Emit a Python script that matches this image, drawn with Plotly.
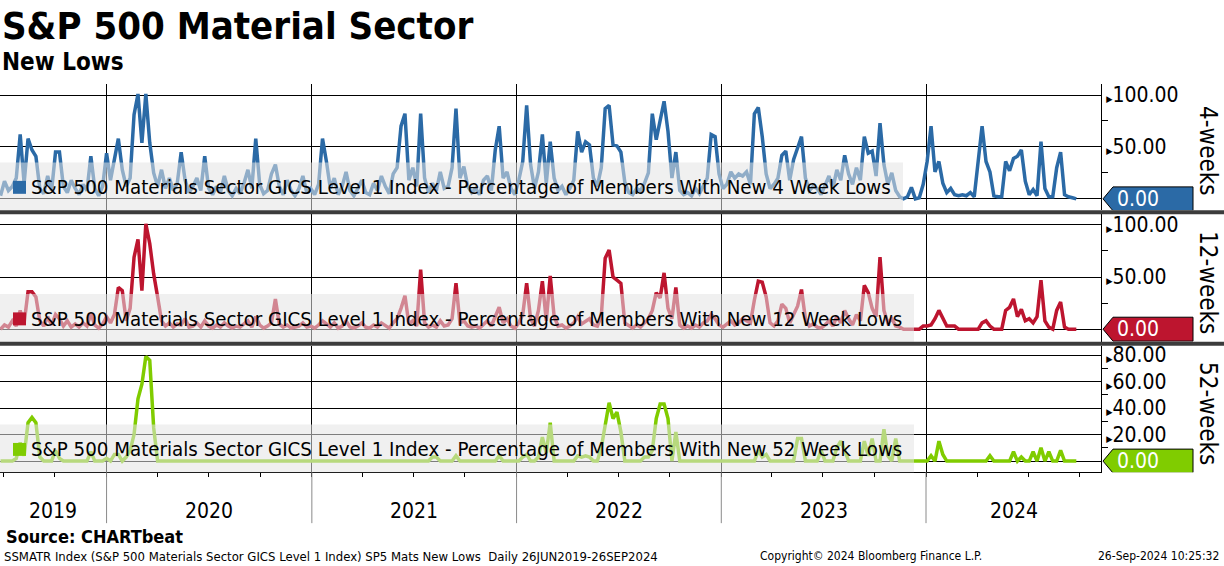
import plotly.graph_objects as go
import pandas as pd

W, H = 1224, 566

# ---------------- data (weekly readings, 26 Jun 2019 - 25 Sep 2024) ----------------
start_date = "2019-06-26"
n_weeks = 275

lows_4w = [
    3, 17, 8, 12, 20, 62, 15, 58, 47, 41,
    10, 5, 22, 8, 45, 45, 12, 6, 18, 10,
    4, 14, 8, 41, 10, 3, 12, 44, 18, 39,
    58, 28, 12, 20, 81, 101, 54, 101, 54, 25,
    12, 28, 10, 20, 8, 15, 45, 18, 6, 12,
    20, 8, 41, 10, 4, 12, 6, 22, 8, 3,
    10, 5, 15, 28, 10, 58, 14, 5, 8, 24,
    33, 12, 4, 18, 8, 3, 10, 22, 6, 10,
    4, 14, 58, 36, 10, 20, 4, 12, 26, 8,
    3, 10, 18, 6, 4, 15, 8, 22, 12, 5,
    24, 30, 70, 82, 18, 30, 12, 82, 20, 6,
    15, 8, 26, 10, 12, 30, 87, 20, 31, 12,
    6, 10, 4, 18, 22, 8, 47, 70, 20, 26,
    10, 4, 18, 36, 90, 33, 10, 26, 62, 15,
    55, 20, 8, 12, 4, 10, 18, 65, 45, 55,
    52, 20, 12, 30, 87, 90, 52, 51, 45, 16,
    6, 4, 10, 8, 15, 25, 82, 57, 76, 94,
    65, 20, 45, 8, 4, 6, 3, 10, 5, 12,
    20, 62, 60, 24, 10, 14, 26, 20, 24, 22,
    26, 14, 82, 88, 60, 24, 10, 14, 20, 42,
    46, 18, 38, 49, 60, 20, 8, 12, 10, 4,
    14, 22, 10, 28, 18, 42, 24, 14, 30, 18,
    60, 44, 46, 22, 73, 33, 14, 25, 8, 2,
    0, 2, 11, 0, 1, 14, 36, 70, 26, 36,
    15, 6, 10, 4, 3, 4, 3, 6, 2, 36,
    70, 36, 26, 3, 2, 2, 36, 27, 39, 41,
    47, 17, 4, 9, 3, 55, 10, 2, 2, 30,
    45, 4, 2, 1, 0,
]

lows_12w = [
    0, 4, 2, 8, 3, 18, 6, 36, 36, 31,
    8, 3, 12, 4, 14, 10, 3, 8, 2, 5,
    2, 6, 3, 15, 4, 1, 5, 12, 6, 14,
    40, 37, 8, 20, 69, 86, 37, 101, 82, 53,
    31, 8, 3, 6, 2, 5, 4, 10, 2, 3,
    6, 2, 8, 3, 1, 4, 2, 6, 3, 1,
    3, 2, 5, 8, 2, 12, 4, 1, 3, 6,
    29, 5, 2, 4, 1, 2, 3, 6, 2, 3,
    1, 4, 8, 5, 2, 6, 1, 3, 8, 2,
    1, 3, 6, 2, 1, 4, 2, 6, 3, 1,
    6, 10, 20, 32, 5, 8, 3, 57, 6, 2,
    4, 2, 8, 3, 4, 10, 44, 6, 8, 3,
    2, 3, 1, 5, 8, 3, 12, 21, 6, 10,
    3, 1, 6, 14, 44, 10, 3, 18, 46, 8,
    51, 12, 3, 4, 1, 3, 6, 12, 5, 8,
    10, 4, 3, 12, 68, 76, 50, 47, 44, 6,
    3, 1, 4, 2, 6, 10, 18, 35, 30, 54,
    20, 10, 40, 4, 1, 3, 1, 4, 2, 6,
    8, 14, 10, 4, 2, 5, 8, 4, 6, 10,
    8, 6, 28, 46, 45, 31, 6, 3, 8, 24,
    20, 6, 14, 22, 38, 10, 3, 5, 2, 1,
    4, 8, 3, 12, 6, 18, 10, 4, 14, 8,
    42, 35, 20, 12, 69, 18, 6, 10, 3, 2,
    0, 0, 0, 0, 0, 3, 3, 4, 10, 18,
    10, 3, 3, 3, 0, 0, 0, 0, 0, 0,
    6, 8, 3, 0, 0, 0, 18, 21, 29, 12,
    19, 8, 10, 6, 12, 47, 8, 2, 0, 18,
    26, 2, 0, 0, 0,
]

lows_52w = [
    0, 0, 0, 0, 2, 14, 4, 29, 33, 29,
    3, 0, 0, 0, 8, 2, 0, 0, 0, 0,
    0, 0, 0, 7, 0, 0, 0, 2, 0, 5,
    5, 0, 3, 8, 20, 47, 58, 79, 76, 25,
    0, 0, 0, 0, 0, 0, 0, 0, 0, 0,
    0, 0, 0, 0, 0, 0, 0, 0, 0, 0,
    0, 0, 0, 0, 0, 0, 0, 0, 0, 0,
    0, 0, 0, 0, 0, 0, 0, 0, 0, 0,
    0, 0, 0, 0, 0, 0, 0, 0, 0, 0,
    0, 0, 0, 0, 0, 0, 0, 0, 0, 0,
    0, 0, 0, 0, 0, 0, 0, 0, 0, 0,
    3, 3, 0, 0, 0, 0, 4, 0, 0, 0,
    0, 0, 0, 0, 0, 0, 0, 4, 0, 0,
    0, 0, 0, 3, 5, 0, 0, 3, 18, 6,
    29, 0, 0, 0, 0, 0, 0, 4, 3, 4,
    3, 0, 0, 10, 27, 44, 32, 37, 22, 0,
    0, 0, 0, 0, 3, 3, 8, 32, 43, 43,
    32, 0, 22, 0, 0, 0, 0, 0, 0, 0,
    0, 0, 0, 0, 0, 0, 0, 0, 0, 0,
    0, 0, 0, 8, 3, 5, 0, 0, 0, 0,
    0, 0, 0, 17, 17, 0, 0, 0, 0, 8,
    0, 0, 0, 10, 15, 8, 0, 0, 0, 0,
    15, 4, 17, 0, 0, 24, 4, 0, 17, 0,
    0, 0, 0, 0, 0, 0, 0, 4, 0, 15,
    5, 0, 0, 0, 0, 0, 0, 0, 0, 0,
    0, 0, 4, 0, 0, 0, 0, 0, 7, 0,
    3, 0, 0, 7, 0, 10, 0, 7, 0, 0,
    8, 0, 0, 0, 0,
]

series_names = [
    "S&P 500 Materials Sector GICS Level 1 Index - Percentage of Members With New 4 Week Lows",
    "S&P 500 Materials Sector GICS Level 1 Index - Percentage of Members With New 12 Week Lows",
    "S&P 500 Materials Sector GICS Level 1 Index - Percentage of Members With New 52 Week Lows",
]
panel_titles = ["4-weeks", "12-weeks", "52-weeks"]
year_labels = ["2019", "2020", "2021", "2022", "2023", "2024"]
major_ticks = [[50, 100], [50, 100], [20, 40, 60, 80]]
minor_ticks = [[25, 75], [25, 75], [10, 30, 50, 70]]

title_text = "S&P 500 Material Sector"
subtitle_text = "New Lows"
source_text = "Source: CHARTbeat"
footer_left = "SSMATR Index (S&P 500 Materials Sector GICS Level 1 Index) SP5 Mats New Lows  Daily 26JUN2019-26SEP2024"
footer_mid = "Copyright\u00a9 2024 Bloomberg Finance L.P."
footer_right = "26-Sep-2024 10:25:32"

# ---------------- styling ----------------
FONT = "DejaVu Sans Condensed, DejaVu Sans, sans-serif"
colors = ["#2b6aa6", "#bd152f", "#80cc00"]
X_RANGE = ["2019-06-25", "2024-11-08"]
X_RIGHT_PX = 1101

# panel pixel geometry: top, bottom, y-range, legend-box right edge
panels = [
    dict(top=82, bot=209, rng=[-11.0, 110.9], box_right=903),
    dict(top=213, bot=341, rng=[-12.1, 110.2], box_right=914),
    dict(top=345, bot=472, rng=[-8.5, 87.0], box_right=914),
]


def py(y):
    return 1 - y / H


def px(x):
    return x / W


dates = pd.date_range(start_date, periods=n_weeks, freq="7D")
all_series = [lows_4w, lows_12w, lows_52w]

fig = go.Figure()
shapes = []
annotations = []

for i, (vals, col, p) in enumerate(zip(all_series, colors, panels)):
    k = "" if i == 0 else str(i + 1)
    fig.add_trace(go.Scatter(
        x=dates, y=vals, mode="lines", name=series_names[i],
        line=dict(color=col, width=3.5), xaxis="x" + k, yaxis="y" + k,
        showlegend=False,
    ))

    fig.update_layout(**{
        "xaxis" + k: dict(
            domain=[0, px(X_RIGHT_PX)], range=X_RANGE, anchor="y" + k,
            type="date", tickmode="linear", tick0="2020-01-01", dtick="M12",
            showgrid=True, gridcolor="black", gridwidth=1,
            showticklabels=False, zeroline=False,
            showline=(i == 2), linecolor="black", linewidth=1,
            ticks="outside" if i == 2 else "", ticklen=4, tickcolor="black",
            minor=dict(tick0="2019-07-01", dtick="M3", ticks="outside" if i == 2 else "",
                       ticklen=4, tickcolor="black", showgrid=False),
            matches=None if i == 0 else "x",
        ),
        "yaxis" + k: dict(
            domain=[py(p["bot"]), py(p["top"])], range=p["rng"], anchor="x" + k,
            side="right", showline=True, linecolor="black", linewidth=1,
            tickmode="array", tickvals=major_ticks[i],
            ticktext=['<span style="font-size:9px">\u25b6</span>%.2f' % v for v in major_ticks[i]],
            ticks="", tickfont=dict(family=FONT, size=21, color="black"),
            showgrid=True, gridcolor="black", gridwidth=1,
            zeroline=True, zerolinecolor="black", zerolinewidth=1,
            minor=dict(tickvals=minor_ticks[i], ticks="outside", ticklen=6,
                       tickcolor="black", showgrid=False),
            fixedrange=True,
        ),
    })

    # faded legend box drawn above the line
    shapes.append(dict(type="rect", xref="paper", yref="paper", layer="above",
                       x0=px(0), x1=px(p["box_right"]), y0=py(p["bot"]), y1=py(p["bot"] - 48),
                       fillcolor="rgba(228,228,228,0.55)", line=dict(width=0)))
    cy = p["bot"] - 23
    shapes.append(dict(type="rect", xref="paper", yref="paper", layer="above",
                       x0=px(13), x1=px(26), y0=py(cy + 6.5), y1=py(cy - 6.5),
                       fillcolor=col, line=dict(width=0)))
    annotations.append(dict(text=series_names[i], xref="paper", yref="paper",
                            x=px(29), y=py(cy), xanchor="left", yanchor="middle",
                            showarrow=False, font=dict(family=FONT, size=20.3, color="black")))

    # last-value tag
    last = vals[-1]
    ppu = (p["bot"] - p["top"]) / (p["rng"][1] - p["rng"][0])
    half = 12 / ppu
    xt, xb0, xb1 = px(1103), px(1113), px(1193)
    shapes.append(dict(type="path", xref="paper", yref="y" + k, layer="above",
                       path=f"M {xt},{last} L {xb0},{last + half} L {xb1},{last + half} "
                            f"L {xb1},{last - half} L {xb0},{last - half} Z",
                       fillcolor=col, line=dict(color="black", width=1)))
    annotations.append(dict(text="%.2f" % last, xref="paper", yref="y" + k,
                            x=px(1115), y=last, xanchor="left", yanchor="middle",
                            showarrow=False, font=dict(family=FONT, size=21, color="white")))

    # rotated panel title
    annotations.append(dict(text=panel_titles[i], xref="paper", yref="paper",
                            x=px(1208), y=py((p["top"] + p["bot"]) / 2 + 4), textangle=90,
                            xanchor="center", yanchor="middle", showarrow=False,
                            font=dict(family=FONT, size=24, color="black")))

# panel separators
for ytop in (209, 341):
    shapes.append(dict(type="rect", xref="paper", yref="paper", layer="above",
                       x0=0, x1=1, y0=py(ytop + 4), y1=py(ytop),
                       fillcolor="#3c3c3c", line=dict(width=0)))

# year separators in the date band + centered year labels
x0 = pd.Timestamp(X_RANGE[0])
x1 = pd.Timestamp(X_RANGE[1])
bounds = [x0] + [pd.Timestamp(f"{y}-01-01") for y in year_labels[1:]] + [x1]
for j, lab in enumerate(year_labels):
    a, b = bounds[j], bounds[j + 1]
    mid = a + (b - a) / 2
    annotations.append(dict(text=lab, xref="x3", yref="paper", x=mid, y=py(511),
                            xanchor="center", yanchor="middle", showarrow=False,
                            font=dict(family=FONT, size=21, color="black")))
for b in bounds[1:-1]:
    shapes.append(dict(type="line", xref="x3", yref="paper", x0=b, x1=b,
                       y0=py(472), y1=py(523), line=dict(color="#8a8a8a", width=1)))

# titles and footer
annotations += [
    dict(text=title_text, xref="paper", yref="paper", x=0, y=py(24), xanchor="left",
         yanchor="middle", showarrow=False,
         font=dict(family=FONT, size=38, color="black", weight="bold")),
    dict(text=subtitle_text, xref="paper", yref="paper", x=0, y=py(60), xanchor="left",
         yanchor="middle", showarrow=False,
         font=dict(family=FONT, size=24, color="black", weight="bold")),
    dict(text=source_text, xref="paper", yref="paper", x=px(4), y=py(536), xanchor="left",
         yanchor="middle", showarrow=False,
         font=dict(family=FONT, size=18, color="black", weight="bold")),
    dict(text=footer_left, xref="paper", yref="paper", x=px(2), y=py(556), xanchor="left",
         yanchor="middle", showarrow=False, font=dict(family=FONT, size=13, color="black")),
    dict(text=footer_mid, xref="paper", yref="paper", x=px(758), y=py(556), xanchor="left",
         yanchor="middle", showarrow=False, font=dict(family=FONT, size=12, color="black")),
    dict(text=footer_right, xref="paper", yref="paper", x=px(1221), y=py(556), xanchor="right",
         yanchor="middle", showarrow=False, font=dict(family=FONT, size=12, color="black")),
]

fig.update_layout(
    width=W, height=H, margin=dict(l=0, r=0, t=0, b=0),
    paper_bgcolor="white", plot_bgcolor="white",
    font=dict(family=FONT, color="black"),
    shapes=shapes, annotations=annotations, showlegend=False,
)

fig.write_html("out.html", config={"displayModeBar": False},
               post_script="document.body.style.margin='0';document.body.style.overflow='hidden';")
